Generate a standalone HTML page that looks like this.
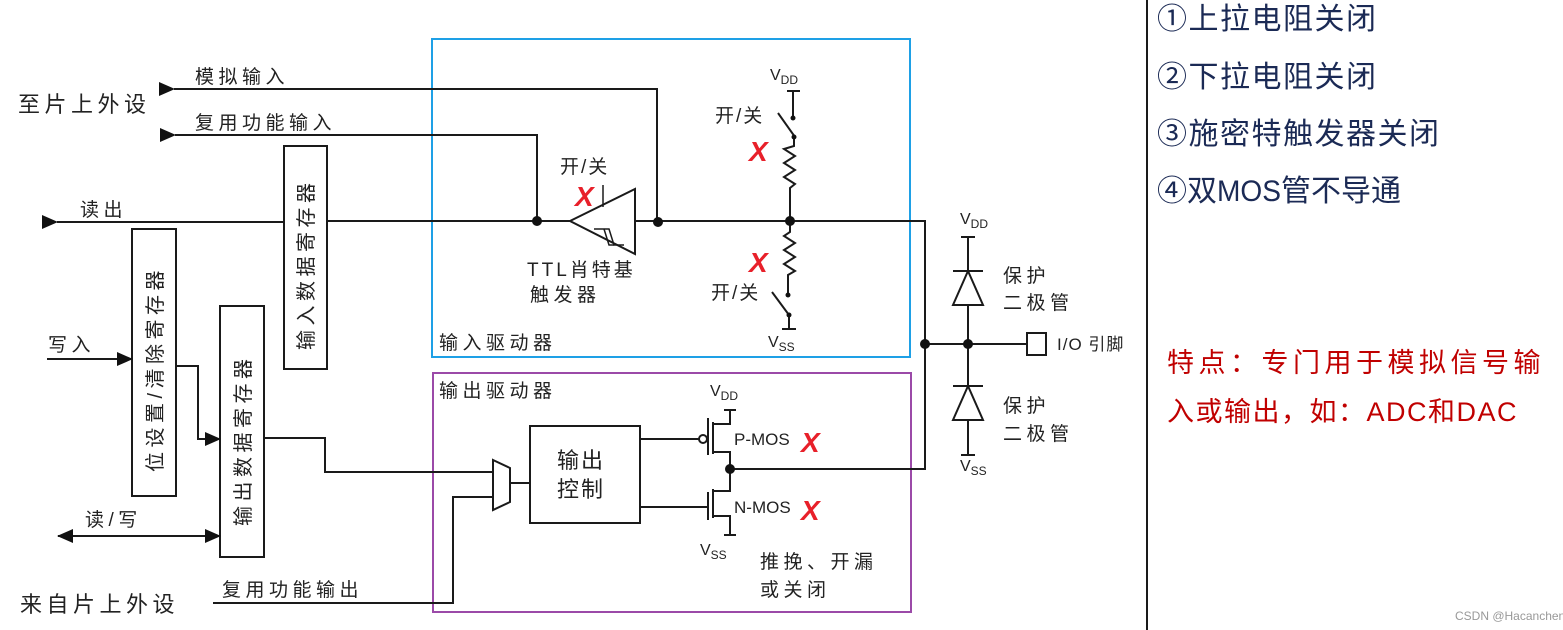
<!DOCTYPE html>
<html><head><meta charset="utf-8"><style>
html,body{margin:0;padding:0;background:#fff;}
svg{display:block;}
text{font-family:"Liberation Sans","Noto Sans CJK SC",sans-serif;fill:#222;}
</style></head><body>
<svg width="1563" height="630" viewBox="0 0 1563 630" xmlns="http://www.w3.org/2000/svg">
<defs>
<marker id="ar" markerWidth="16" markerHeight="16" refX="15" refY="8" orient="auto" markerUnits="userSpaceOnUse"><path d="M0,1 L16,8 L0,15 z" fill="#111"/></marker>
<marker id="al" markerWidth="16" markerHeight="16" refX="1" refY="8" orient="auto" markerUnits="userSpaceOnUse"><path d="M16,1 L0,8 L16,15 z" fill="#111"/></marker>
</defs>
<g stroke="#1a1a1a" stroke-width="2" fill="none">
<rect x="432" y="39" width="478" height="318" stroke="#1ea0e6"/>
<rect x="433" y="373" width="478" height="239" stroke="#9b4aa8"/>
<rect x="284" y="146" width="43" height="223"/>
<rect x="132" y="229" width="44" height="267"/>
<rect x="220" y="306" width="44" height="251"/>
<rect x="530" y="426" width="110" height="97"/>
<polyline points="657,221 657,89 174,89" marker-end="url(#al)"/>
<polyline points="537,221 537,135 175,135" marker-end="url(#al)"/>
<line x1="284" y1="222" x2="57" y2="222" marker-end="url(#al)"/>
<line x1="327" y1="221" x2="570" y2="221"/>
<polygon points="570,221 635,189 635,254"/>
<polyline points="594,229 609,229 614,245 624,245" stroke-width="1.5"/>
<polyline points="604,229 609,245 614,245" stroke-width="1.5"/>
<line x1="603" y1="185" x2="603" y2="207" stroke-width="1.5"/>
<polyline points="635,221 925,221 925,469 730,469"/>
<line x1="787" y1="91" x2="800" y2="91"/>
<line x1="793" y1="91" x2="793" y2="118"/>
<line x1="778" y1="113" x2="795" y2="137"/>
<polyline points="794,137 794,146 784,149 795,156 784,163 795,170 784,177 795,184 790,188 790,221"/>
<polyline points="790,221 790,232 784,236 795,243 784,250 795,257 784,264 795,271 788,275 788,295"/>
<line x1="772" y1="292" x2="789" y2="315"/>
<line x1="789" y1="315" x2="789" y2="329"/>
<line x1="782" y1="329" x2="796" y2="329"/>
<line x1="47" y1="359" x2="132" y2="359" marker-end="url(#ar)"/>
<polyline points="176,366 198,366 198,439 220,439" marker-end="url(#ar)"/>
<line x1="58" y1="536" x2="220" y2="536" marker-end="url(#ar)" marker-start="url(#al)"/>
<polyline points="264,438 325,438 325,472 494,472"/>
<polyline points="213,603 453,603 453,497 493,497"/>
<polygon points="493,460 510,468 510,502 493,510"/>
<line x1="510" y1="483" x2="530" y2="483"/>
<line x1="640" y1="439" x2="699" y2="439"/>
<circle cx="703" cy="439" r="4"/>
<line x1="708" y1="418" x2="708" y2="455"/>
<line x1="713" y1="422" x2="713" y2="454"/>
<polyline points="713,424 730,424 730,410"/>
<line x1="724" y1="410" x2="736" y2="410"/>
<polyline points="713,452 730,452 730,491 713,491"/>
<line x1="640" y1="507" x2="708" y2="507"/>
<line x1="708" y1="492" x2="708" y2="520"/>
<line x1="713" y1="489" x2="713" y2="518"/>
<polyline points="713,516 730,516 730,535"/>
<line x1="724" y1="535" x2="736" y2="535"/>
<line x1="925" y1="344" x2="1027" y2="344"/>
<rect x="1027" y="333" width="19" height="22"/>
<line x1="961" y1="237" x2="975" y2="237"/>
<line x1="968" y1="237" x2="968" y2="455"/>
<line x1="953" y1="271" x2="983" y2="271"/>
<polygon points="968,271 953,305 983,305" fill="#fff"/>
<line x1="953" y1="386" x2="983" y2="386"/>
<polygon points="968,386 953,420 983,420" fill="#fff"/>
<line x1="961" y1="455" x2="975" y2="455"/>
<line x1="1147" y1="0" x2="1147" y2="630"/>
</g>
<g fill="#111">
<circle cx="537" cy="221" r="5"/><circle cx="658" cy="222" r="5"/><circle cx="790" cy="221" r="5"/>
<circle cx="793" cy="118" r="2.5"/><circle cx="794" cy="137" r="2.5"/><circle cx="788" cy="295" r="2.5"/><circle cx="789" cy="315" r="2.5"/>
<circle cx="730" cy="469" r="5"/><circle cx="925" cy="344" r="5"/><circle cx="968" cy="344" r="5"/>
</g>
<g font-size="19" letter-spacing="4.5">
<text x="195" y="83">模拟输入</text>
<text x="195" y="129">复用功能输入</text>
<text x="80" y="216">读出</text>
<text x="48" y="351">写入</text>
<text x="85" y="526">读/写</text>
<text x="222" y="596">复用功能输出</text>
<text x="560" y="173" letter-spacing="2">开/关</text>
<text x="527" y="276" letter-spacing="3">TTL肖特基</text>
<text x="530" y="301">触发器</text>
<text x="715" y="122" letter-spacing="2">开/关</text>
<text x="711" y="299" letter-spacing="2">开/关</text>
<text x="439" y="349">输入驱动器</text>
<text x="439" y="397">输出驱动器</text>
<text x="1003" y="282">保护</text>
<text x="1003" y="309">二极管</text>
<text x="1003" y="412">保护</text>
<text x="1003" y="440">二极管</text>
<text x="1057" y="350" font-size="17" letter-spacing="1">I/O 引脚</text>
<text x="760" y="568">推挽、开漏</text>
<text x="760" y="596">或关闭</text>
<text x="734" y="445" font-size="17" letter-spacing="0">P-MOS</text>
<text x="734" y="513" font-size="17" letter-spacing="0">N-MOS</text>
</g>
<g font-size="22" letter-spacing="4.5">
<text x="18" y="112">至片上外设</text>
<text x="20" y="612">来自片上外设</text>
<text x="557" y="468" letter-spacing="2">输出</text>
<text x="557" y="497" letter-spacing="2">控制</text>
</g>
<g font-size="16">
<text x="770" y="80">V<tspan font-size="12" dy="4">DD</tspan></text>
<text x="768" y="347">V<tspan font-size="12" dy="4">SS</tspan></text>
<text x="710" y="396">V<tspan font-size="12" dy="4">DD</tspan></text>
<text x="700" y="555">V<tspan font-size="12" dy="4">SS</tspan></text>
<text x="960" y="224">V<tspan font-size="12" dy="4">DD</tspan></text>
<text x="960" y="471">V<tspan font-size="12" dy="4">SS</tspan></text>
</g>
<g font-size="20" letter-spacing="4.5">
<text transform="translate(313,350) rotate(-90)">输入数据寄存器</text>
<text transform="translate(162,472) rotate(-90)">位设置/清除寄存器</text>
<text transform="translate(250,526) rotate(-90)">输出数据寄存器</text>
</g>
<g font-size="28" font-weight="bold" font-style="italic">
<text x="575" y="206" style="fill:#e8202a">X</text>
<text x="749" y="161" style="fill:#e8202a">X</text>
<text x="749" y="272" style="fill:#e8202a">X</text>
<text x="801" y="452" style="fill:#e8202a">X</text>
<text x="801" y="520" style="fill:#e8202a">X</text>
</g>
<g font-size="30" letter-spacing="1.5">
<text x="1157" y="29" style="fill:#1b2a55">①上拉电阻关闭</text>
<text x="1157" y="87" style="fill:#1b2a55">②下拉电阻关闭</text>
<text x="1157" y="144" style="fill:#1b2a55">③施密特触发器关闭</text>
<text x="1157" y="201" style="fill:#1b2a55" letter-spacing="0">④双<tspan textLength="64" lengthAdjust="spacingAndGlyphs">MOS</tspan>管不导通</text>
</g>
<g font-size="27" letter-spacing="4.5">
<text x="1167" y="372" style="fill:#c00000">特点：专门用于模拟信号输</text>
<text x="1167" y="421" style="fill:#c00000" letter-spacing="1.5">入或输出，如：ADC和DAC</text>
</g>
<text x="1455" y="620" font-size="12" style="fill:#999">CSDN @Hacanchen</text>
</svg>
</body></html>
